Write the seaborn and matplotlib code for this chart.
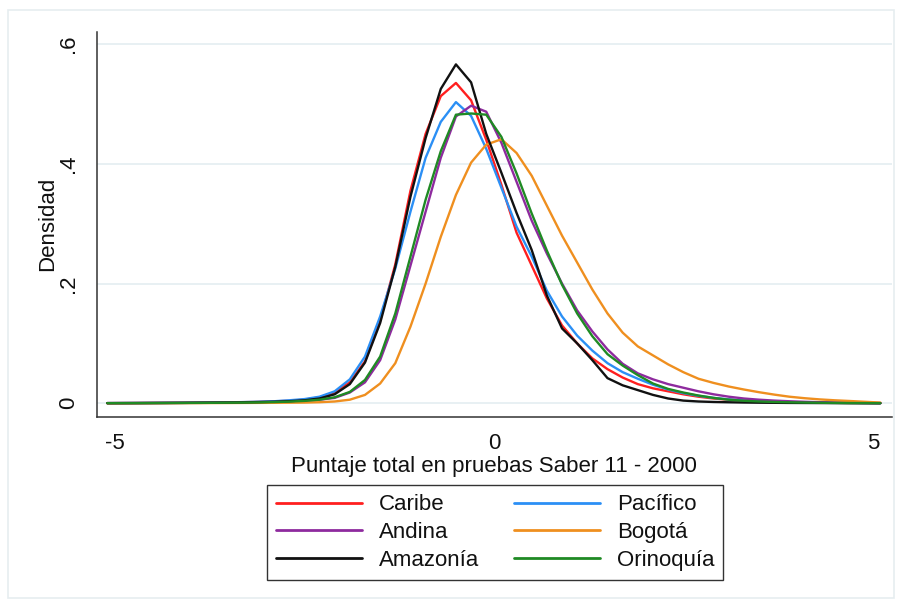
import numpy as np
import pandas as pd
import matplotlib
matplotlib.use("Agg")
import matplotlib.pyplot as plt
import seaborn as sns
from matplotlib.patches import Rectangle
from matplotlib.lines import Line2D

# ---- data ----
x = [-5.1, -4.9, -4.7, -4.5, -4.3, -4.1, -3.9, -3.7, -3.5, -3.3, -3.1, -2.9, -2.7,
     -2.5, -2.3, -2.1, -1.9, -1.7, -1.5, -1.3, -1.1, -0.9, -0.7, -0.5, -0.3, -0.1,
     0.1, 0.3, 0.5, 0.7, 0.9, 1.1, 1.3, 1.5, 1.7, 1.9, 2.1, 2.3, 2.5, 2.7, 2.9,
     3.1, 3.3, 3.5, 3.7, 3.9, 4.1, 4.3, 4.5, 4.7, 4.9, 5.1]

caribe = [0.0003, 0.0004, 0.0005, 0.0006, 0.0007, 0.0008, 0.0010, 0.0012, 0.0015, 0.0019, 0.0024, 0.0032, 0.0042,
          0.0060, 0.0100, 0.0180, 0.0350, 0.0700, 0.1380, 0.2320, 0.3550, 0.4500, 0.5130, 0.5350, 0.5060, 0.4400,
          0.3650, 0.2850, 0.2300, 0.1750, 0.1300, 0.1000, 0.0750, 0.0570, 0.0430, 0.0320, 0.0250, 0.0200, 0.0150, 0.0110, 0.0080,
          0.0060, 0.0045, 0.0035, 0.0026, 0.0019, 0.0014, 0.0010, 0.0008, 0.0006, 0.0004, 0.0003]
pacifico = [0.0003, 0.0004, 0.0005, 0.0006, 0.0007, 0.0009, 0.0011, 0.0013, 0.0016, 0.0020, 0.0026, 0.0034, 0.0050,
            0.0070, 0.0110, 0.0200, 0.0400, 0.0780, 0.1450, 0.2250, 0.3200, 0.4100, 0.4700, 0.5030, 0.4800, 0.4250,
            0.3600, 0.2950, 0.2450, 0.1880, 0.1450, 0.1130, 0.0880, 0.0670, 0.0520, 0.0410, 0.0310, 0.0230, 0.0170, 0.0125, 0.0090,
            0.0065, 0.0048, 0.0036, 0.0027, 0.0020, 0.0015, 0.0011, 0.0008, 0.0006, 0.0004, 0.0003]
andina = [0.0002, 0.0003, 0.0003, 0.0004, 0.0005, 0.0006, 0.0007, 0.0008, 0.0010, 0.0012, 0.0015, 0.0020, 0.0028,
          0.0040, 0.0060, 0.0090, 0.0180, 0.0350, 0.0720, 0.1400, 0.2300, 0.3200, 0.4100, 0.4790, 0.4970, 0.4870,
          0.4350, 0.3700, 0.3050, 0.2500, 0.2000, 0.1550, 0.1200, 0.0900, 0.0660, 0.0500, 0.0400, 0.0320, 0.0260, 0.0200, 0.0150,
          0.0110, 0.0080, 0.0060, 0.0045, 0.0034, 0.0025, 0.0018, 0.0013, 0.0009, 0.0006, 0.0004]
bogota = [0.0001, 0.0001, 0.0002, 0.0002, 0.0002, 0.0003, 0.0003, 0.0004, 0.0005, 0.0006, 0.0007, 0.0008, 0.0010,
          0.0012, 0.0018, 0.0030, 0.0060, 0.0140, 0.0330, 0.0670, 0.1280, 0.2000, 0.2780, 0.3480, 0.4020, 0.4320,
          0.4410, 0.4180, 0.3800, 0.3300, 0.2800, 0.2350, 0.1900, 0.1500, 0.1180, 0.0950, 0.0800, 0.0650, 0.0520, 0.0410, 0.0340,
          0.0280, 0.0230, 0.0185, 0.0145, 0.0110, 0.0085, 0.0065, 0.0050, 0.0038, 0.0025, 0.0012]
amazonia = [0.0003, 0.0003, 0.0004, 0.0005, 0.0006, 0.0007, 0.0009, 0.0011, 0.0013, 0.0016, 0.0020, 0.0026, 0.0035,
            0.0050, 0.0080, 0.0150, 0.0320, 0.0680, 0.1340, 0.2280, 0.3450, 0.4430, 0.5250, 0.5660, 0.5360, 0.4500,
            0.3850, 0.3180, 0.2560, 0.1800, 0.1250, 0.1000, 0.0720, 0.0420, 0.0300, 0.0220, 0.0140, 0.0080, 0.0045, 0.0030, 0.0022,
            0.0017, 0.0013, 0.0010, 0.0008, 0.0006, 0.0005, 0.0004, 0.0003, 0.0002, 0.0002, 0.0001]
orinoquia = [0.0002, 0.0003, 0.0003, 0.0004, 0.0005, 0.0006, 0.0007, 0.0008, 0.0010, 0.0012, 0.0015, 0.0020, 0.0028,
             0.0040, 0.0060, 0.0100, 0.0190, 0.0390, 0.0780, 0.1500, 0.2450, 0.3400, 0.4210, 0.4820, 0.4840, 0.4820,
             0.4450, 0.3840, 0.3170, 0.2550, 0.1980, 0.1500, 0.1120, 0.0820, 0.0630, 0.0470, 0.0330, 0.0240, 0.0180, 0.0130, 0.0090,
             0.0060, 0.0042, 0.0030, 0.0022, 0.0016, 0.0012, 0.0009, 0.0006, 0.0004, 0.0003, 0.0002]

regions = ["Caribe", "Andina", "Amazonía", "Pacífico", "Bogotá", "Orinoquía"]
series = {"Caribe": caribe, "Pacífico": pacifico, "Andina": andina,
          "Bogotá": bogota, "Amazonía": amazonia, "Orinoquía": orinoquia}
colors = {"Caribe": "#ff1f1f", "Pacífico": "#2b8ff5", "Andina": "#8e2a9e",
          "Bogotá": "#ef8f1f", "Amazonía": "#111111", "Orinoquía": "#1f8a24"}
draw_order = ["Caribe", "Pacífico", "Andina", "Bogotá", "Amazonía", "Orinoquía"]

xticks = [-5, 0, 5]
xticklabels = ["-5", "0", "5"]
yticks = [0, 0.2, 0.4, 0.6]
yticklabels = ["0", ".2", ".4", ".6"]

df = pd.concat([pd.DataFrame({"x": x, "y": series[r], "region": r}) for r in draw_order],
               ignore_index=True)

# ---- figure ----
sns.set_theme(style="white")
plt.rcParams["font.family"] = ["Liberation Sans", "DejaVu Sans"]

W, H = 902, 605
FS = 16
fig = plt.figure(figsize=(W / 100, H / 100), dpi=100)
fig.patch.set_facecolor("white")
fig.patches.append(Rectangle((8 / W, 1 - 598 / H), (894 - 8) / W, (598 - 10) / H,
                             transform=fig.transFigure, fill=False,
                             edgecolor="#e6edf0", lw=1.2))

ax = fig.add_axes([96.7 / W, 1 - 416.7 / H, (891.7 - 96.7) / W, (416.7 - 31.7) / H])
ax.set_facecolor("white")

sns.lineplot(data=df, x="x", y="y", hue="region", hue_order=draw_order,
             palette=colors, linewidth=1.7, ax=ax, legend=False, sort=False)

ax.set_xlim(-5.24, 5.25)
ax.set_ylim(-0.0224, 0.6206)

ax.set_yticks(yticks)
ax.set_yticklabels(yticklabels, rotation=90, va="center", fontsize=FS)
ax.set_xticks(xticks)
ax.set_xticklabels(xticklabels, fontsize=FS)
ax.tick_params(axis="both", direction="out", length=8, width=1, color="#333333",
               labelcolor="#111111")
ax.tick_params(axis="y", pad=5)
ax.tick_params(axis="x", pad=4)

for yv in yticks:
    ax.axhline(yv, color="#e4eef1", lw=1.2, zorder=0)

for s in ["top", "right"]:
    ax.spines[s].set_visible(False)
for s in ["left", "bottom"]:
    ax.spines[s].set_color("#333333")
    ax.spines[s].set_linewidth(1.1)

ax.set_xlabel("Puntaje total en pruebas Saber 11 - 2000", fontsize=FS, color="#111111", labelpad=1)
ax.set_ylabel("Densidad", fontsize=FS, color="#111111", labelpad=0)

# legend
handles = [Line2D([0], [0], color=colors[r], lw=2) for r in regions]
leg = fig.legend(handles, regions, ncol=2, loc="center",
                 bbox_to_anchor=((265 + 725) / 2 / W, 1 - (485 + 580) / 2 / H),
                 fontsize=FS, frameon=True, fancybox=False, framealpha=1,
                 edgecolor="#333333", handlelength=3.9, handletextpad=0.75,
                 columnspacing=1.55, labelspacing=0.3, borderpad=0.4)
leg.get_frame().set_linewidth(1.0)
for t in leg.get_texts():
    t.set_color("#111111")

fig.savefig("out.png", dpi=100, facecolor="white")
